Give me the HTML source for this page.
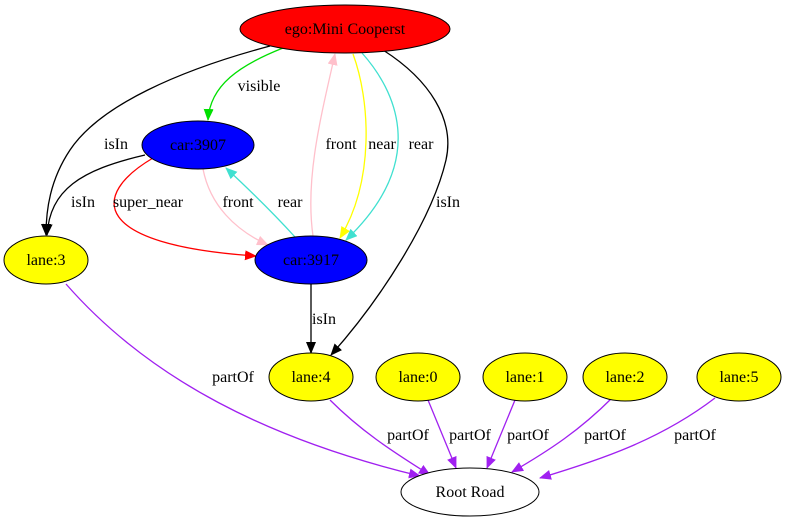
<!DOCTYPE html>
<html><head><style>body{margin:0;background:#fff}svg{display:block}text{font-family:"Liberation Serif","Times New Roman",serif;font-size:16px;text-anchor:middle}</style></head><body>
<svg width="785" height="523" viewBox="0 0 785 523" font-family="Liberation Serif, serif" font-size="16">
<defs>
<marker id="k" markerWidth="12" markerHeight="10" refX="11" refY="5" orient="auto" markerUnits="userSpaceOnUse"><path d="M0,0L12,5L0,10z" fill="#000"/></marker>
<marker id="g" markerWidth="12" markerHeight="10" refX="11" refY="5" orient="auto" markerUnits="userSpaceOnUse"><path d="M0,0L12,5L0,10z" fill="#00e000"/></marker>
<marker id="r" markerWidth="12" markerHeight="10" refX="11" refY="5" orient="auto" markerUnits="userSpaceOnUse"><path d="M0,0L12,5L0,10z" fill="red"/></marker>
<marker id="p" markerWidth="12" markerHeight="10" refX="11" refY="5" orient="auto" markerUnits="userSpaceOnUse"><path d="M0,0L12,5L0,10z" fill="pink"/></marker>
<marker id="t" markerWidth="12" markerHeight="10" refX="11" refY="5" orient="auto" markerUnits="userSpaceOnUse"><path d="M0,0L12,5L0,10z" fill="turquoise"/></marker>
<marker id="y" markerWidth="12" markerHeight="10" refX="11" refY="5" orient="auto" markerUnits="userSpaceOnUse"><path d="M0,0L12,5L0,10z" fill="yellow"/></marker>
<marker id="v" markerWidth="12" markerHeight="10" refX="11" refY="5" orient="auto" markerUnits="userSpaceOnUse"><path d="M0,0L12,5L0,10z" fill="#a020f0"/></marker>
</defs>
<g fill="none" stroke-width="1.3">
<path d="M270,46 C180,70 100,105 70,150 C50,180 46,210 46,235" stroke="#000" marker-end="url(#k)"/>
<path d="M283,48 C240,65 210,85 208,120" stroke="#00e000" marker-end="url(#g)"/>
<path d="M145,155 C80,170 50,190 47,235" stroke="#000" marker-end="url(#k)"/>
<path d="M153,158 C90,195 90,245 256,256" stroke="red" marker-end="url(#r)"/>
<path d="M203,169 C210,205 235,230 268,245" stroke="pink" marker-end="url(#p)"/>
<path d="M295,237 C275,215 255,195 226,168" stroke="turquoise" marker-end="url(#t)"/>
<path d="M313,236 C305,180 320,120 335,54" stroke="pink" marker-end="url(#p)"/>
<path d="M353,54 C370,100 375,180 340,238" stroke="yellow" marker-end="url(#y)"/>
<path d="M362,53 C395,90 430,160 346,240" stroke="turquoise" marker-end="url(#t)"/>
<path d="M383,50 C430,80 455,120 446,160 C432,220 380,300 331,355" stroke="#000" marker-end="url(#k)"/>
<path d="M311,284 L311,353" stroke="#000" marker-end="url(#k)"/>
<path d="M66,284 C150,380 270,440 420,476" stroke="#a020f0" marker-end="url(#v)"/>
<path d="M330,400 C360,430 390,450 430,475" stroke="#a020f0" marker-end="url(#v)"/>
<path d="M428,400 L456,468" stroke="#a020f0" marker-end="url(#v)"/>
<path d="M515,400 L487,468" stroke="#a020f0" marker-end="url(#v)"/>
<path d="M612,398 C580,430 550,450 512,472" stroke="#a020f0" marker-end="url(#v)"/>
<path d="M715,398 C660,440 600,460 540,478" stroke="#a020f0" marker-end="url(#v)"/>
</g>
<g stroke="#000" stroke-width="1">
<ellipse cx="345" cy="29" rx="105" ry="24" fill="red"/>
<ellipse cx="198" cy="145" rx="56" ry="24" fill="#0000ff"/>
<ellipse cx="311" cy="260" rx="56" ry="24" fill="#0000ff"/>
<ellipse cx="46" cy="260" rx="42" ry="24" fill="yellow"/>
<ellipse cx="311" cy="377" rx="42" ry="24" fill="yellow"/>
<ellipse cx="418" cy="377" rx="42" ry="24" fill="yellow"/>
<ellipse cx="525" cy="377" rx="42" ry="24" fill="yellow"/>
<ellipse cx="625" cy="377" rx="42" ry="24" fill="yellow"/>
<ellipse cx="739" cy="377" rx="42" ry="24" fill="yellow"/>
<ellipse cx="470" cy="492" rx="69" ry="24" fill="#fff"/>
</g>
<g>
<text x="345" y="34">ego:Mini Cooperst</text>
<text x="198" y="150">car:3907</text>
<text x="311" y="265">car:3917</text>
<text x="46" y="265">lane:3</text>
<text x="311" y="382">lane:4</text>
<text x="418" y="382">lane:0</text>
<text x="525" y="382">lane:1</text>
<text x="625" y="382">lane:2</text>
<text x="739" y="382">lane:5</text>
<text x="470" y="497">Root Road</text>
<text x="259" y="91">visible</text>
<text x="116" y="149">isIn</text>
<text x="83" y="207">isIn</text>
<text x="148" y="207">super_near</text>
<text x="238" y="207">front</text>
<text x="290" y="207">rear</text>
<text x="341" y="149">front</text>
<text x="382" y="149">near</text>
<text x="421" y="149">rear</text>
<text x="448" y="207">isIn</text>
<text x="324" y="324">isIn</text>
<text x="233" y="382">partOf</text>
<text x="408" y="440">partOf</text>
<text x="470" y="440">partOf</text>
<text x="528" y="440">partOf</text>
<text x="605" y="440">partOf</text>
<text x="695" y="440">partOf</text>
</g>
</svg>
</body></html>
